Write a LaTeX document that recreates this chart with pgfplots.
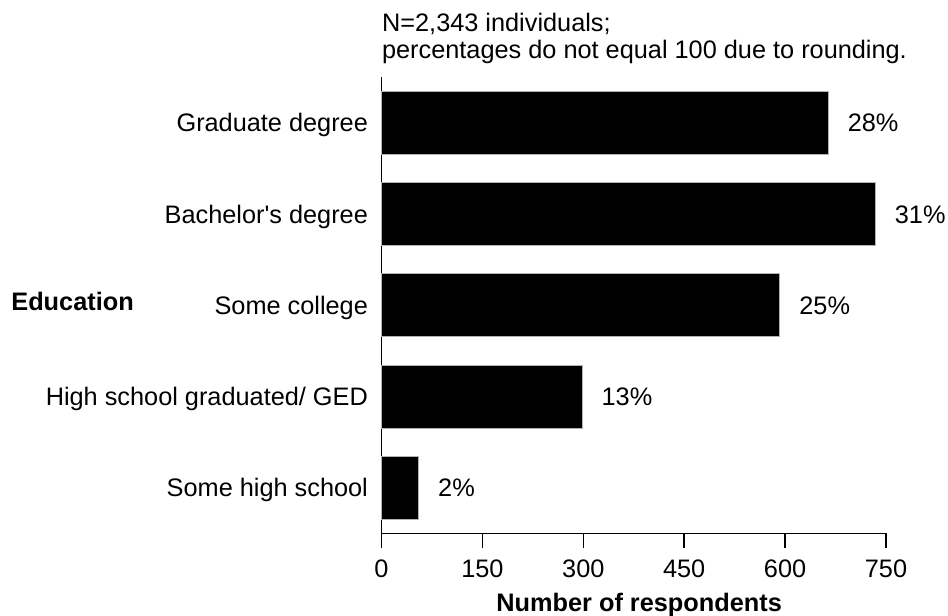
\documentclass[border=0pt]{standalone}
\usepackage{fontspec}
\setmainfont{Liberation Sans}
\usepackage{pgfplots}
\pgfplotsset{compat=1.18}

\begin{document}
\begin{tikzpicture}
    \fontsize{12.7}{15.2}\selectfont
    % page frame, 948x616 px at 0.5bp per px
    \path[use as bounding box] (0,0) rectangle (474bp,308bp);

    \begin{axis}[
        at={(190.75bp,41.35bp)},
        anchor=south west,
        scale only axis,
        width=252.25bp,
        height=228bp,
        xbar,
        bar width=0.69,
        xmin=0, xmax=750,
        ymin=-0.5, ymax=4.5,
        axis lines=left,
        axis line style={-, line width=0.7bp},
        xtick={0,150,300,450,600,750},
        ytick={0,1,2,3,4},
        yticklabels={Some high school, High school graduated/ GED, Some college, Bachelor\textquotesingle s degree, Graduate degree},
        tick align=outside,
        major tick length=7.25bp,
        xtick style={line width=0.7bp, black},
        ytick style={draw=none},
        /pgf/number format/assume math mode=true,
        tick label style={font=\fontsize{12.7}{15.2}\selectfont},
        xticklabel style={anchor=north, inner sep=0pt, yshift=-5.75bp},
        yticklabel style={anchor=base east, inner sep=0pt, xshift=0.65bp, yshift=-4.5bp},
        xlabel={\bfseries Number of respondents},
        xlabel style={at={(axis description cs:0.5,0)}, anchor=north, inner sep=0pt, yshift=-29.7bp, xshift=2.7bp, font=\fontsize{12.7}{15.2}\selectfont},
        point meta=explicit symbolic,
        nodes near coords={\pgfplotspointmeta\%},
        every node near coord/.append style={anchor=base west, inner sep=0pt, xshift=9.65bp, yshift=-4.5bp, font=\fontsize{12.7}{15.2}\selectfont},
        clip=false,
    ]
    \addplot[fill=black, draw=gray!60, line width=0.4bp] coordinates {
        (55,0) [2]
        (298,1) [13]
        (592,2) [25]
        (734,3) [31]
        (664,4) [28]
    };
    \end{axis}

    \node[anchor=base west, inner sep=0pt] at (5.5bp,152.65bp) {\bfseries Education};
    \node[anchor=base west, inner sep=0pt] at (190.85bp,292.15bp) {N=2,343 individuals;};
    \node[anchor=base west, inner sep=0pt] at (190.85bp,278.85bp) {percentages do not equal 100 due to rounding.};
\end{tikzpicture}
\end{document}
